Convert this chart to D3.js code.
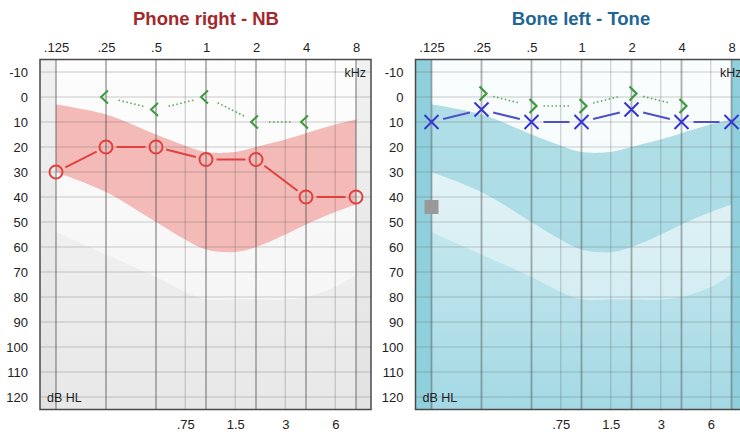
<!DOCTYPE html>
<html><head><meta charset="utf-8">
<script src="https://cdn.jsdelivr.net/npm/d3@7"></script>
<style>
html,body{margin:0;padding:0;background:#fff;}
svg{display:block;font-family:"Liberation Sans",Arial,sans-serif;}
</style></head>
<body>
<svg id="chart" width="740" height="432"></svg>
<script>
// ---- data ----
const titles = ["Phone right - NB", "Bone left - Tone"];
const freqTicks = [0.125, 0.25, 0.5, 1, 2, 4, 8];
const freqTickLabels = [".125", ".25", ".5", "1", "2", "4", "8"];
const midTicks = [0.75, 1.5, 3, 6];
const midTickLabels = [".75", "1.5", "3", "6"];
const dbTicks = [-10, 0, 10, 20, 30, 40, 50, 60, 70, 80, 90, 100, 110, 120];

// Left panel (Phone right): air thresholds (O) and masked bone (<)
const airFreqs = [0.125, 0.25, 0.5, 1, 2, 4, 8];
const airDb = [30, 20, 20, 25, 25, 40, 40];
const rightBoneFreqs = [0.25, 0.5, 1, 2, 4];
const rightBoneDb = [0, 5, 0, 10, 10];

// Right panel (Bone left): X thresholds and bone (>)
const leftXFreqs = [0.125, 0.25, 0.5, 1, 2, 4, 8];
const leftXDb = [10, 5, 10, 10, 5, 10, 10];
const leftBoneFreqs = [0.25, 0.5, 1, 2, 4];
const leftBoneDb = [0, 5, 5, 0, 5];
const squareFreq = [0.125];
const squareDb = [44];

// Shaded range band (same in both panels)
const bandFreqs = [0.125, 0.25, 0.5, 0.75, 1, 1.5, 2, 3, 4, 6, 8];
const bandUpper = [3, 7, 15, 19.5, 22, 22, 20, 17, 14.5, 11, 9];
const bandLower = [30, 38, 50, 57, 61, 62, 60, 55, 51, 46, 43];
const bandFloor = [54, 63, 72, 78, 81, 81, 81, 81, 80, 76, 71];

// ---- layout ----
const svg = d3.select("#chart");
const octPx = 50;
const fMin = 0.125 / Math.pow(2, 0.32), fMax = 8 * Math.pow(2, 0.30);
const y = d3.scaleLinear().domain([-15, 125]).range([59.5, 409.5]);
const curve = d3.curveCatmullRom.alpha(0.5);

const defs = svg.append("defs");
function grad(id, c0, c1) {
  const g = defs.append("linearGradient").attr("id", id).attr("x1", 0).attr("y1", 0).attr("x2", 0).attr("y2", 1);
  g.append("stop").attr("offset", "0%").attr("stop-color", c0);
  g.append("stop").attr("offset", "100%").attr("stop-color", c1);
}
grad("bgL", "#f7f7f7", "#e8e8e8");
grad("bgR", "#e2f4f7", "#a4d9e4");

const panels = [
  { x0: 40, title: titles[0], titleColor: "#a3282c", bg: "url(#bgL)", band: "#f4bab7", bandOp: 1,
    upperOp: 0.7, floorOp: 0.5, strip: "rgba(0,0,0,0.025)", titleX: 206 },
  { x0: 415.5, title: titles[1], titleColor: "#1f6696", bg: "url(#bgR)", band: "#a8dae4", bandOp: 0.85,
    upperOp: 0.8, floorOp: 0.4, strip: "#90d0dc", titleX: 581 }
];

panels.forEach((p, i) => {
  const x = d3.scaleLog().base(2).domain([fMin, fMax]).range([p.x0, p.x0 + octPx * Math.log2(fMax / fMin)]);
  p.xs = x;
  const g = svg.append("g");
  const clipId = "clip" + i;
  defs.append("clipPath").attr("id", clipId).append("rect")
    .attr("x", x.range()[0]).attr("y", y.range()[0])
    .attr("width", x.range()[1] - x.range()[0]).attr("height", y.range()[1] - y.range()[0]);
  const pg = g.append("g").attr("clip-path", `url(#${clipId})`);

  pg.append("rect").attr("x", x.range()[0]).attr("y", y.range()[0])
    .attr("width", x.range()[1] - x.range()[0]).attr("height", y.range()[1] - y.range()[0])
    .attr("fill", p.bg);

  const bd = bandFreqs.map((f, k) => ({ f, u: bandUpper[k], l: bandLower[k], fl: bandFloor[k] }));
  pg.append("path").datum(bd)
    .attr("d", d3.area().x(d => x(d.f)).y0(y(-15)).y1(d => y(d.u)).curve(curve))
    .attr("fill", "#ffffff").attr("opacity", p.upperOp);
  pg.append("path").datum(bd)
    .attr("d", d3.area().x(d => x(d.f)).y0(d => y(d.l)).y1(d => y(d.fl)).curve(curve))
    .attr("fill", "#ffffff").attr("opacity", p.floorOp);
  pg.append("path").datum(bd)
    .attr("d", d3.area().x(d => x(d.f)).y0(d => y(d.u)).y1(d => y(d.l)).curve(curve))
    .attr("fill", p.band).attr("opacity", p.bandOp);

  pg.append("rect").attr("x", x.range()[0]).attr("y", y.range()[0])
    .attr("width", x(0.125) - x.range()[0]).attr("height", y.range()[1] - y.range()[0]).attr("fill", p.strip);
  pg.append("rect").attr("x", x(8)).attr("y", y.range()[0])
    .attr("width", x.range()[1] - x(8)).attr("height", y.range()[1] - y.range()[0]).attr("fill", p.strip);

  pg.selectAll(".hg").data(dbTicks).join("line")
    .attr("x1", x.range()[0]).attr("x2", x.range()[1])
    .attr("y1", d => y(d)).attr("y2", d => y(d))
    .attr("stroke", "rgba(90,90,90,0.3)").attr("stroke-width", 1.2);
  pg.selectAll(".mg").data(midTicks).join("line")
    .attr("x1", d => x(d)).attr("x2", d => x(d))
    .attr("y1", y.range()[0]).attr("y2", y.range()[1])
    .attr("stroke", "rgba(90,90,90,0.28)").attr("stroke-width", 1.2);
  pg.selectAll(".vg").data(freqTicks).join("line")
    .attr("x1", d => x(d)).attr("x2", d => x(d))
    .attr("y1", y.range()[0]).attr("y2", y.range()[1])
    .attr("stroke", "rgba(80,80,80,0.45)").attr("stroke-width", 1.8);

  g.append("rect").attr("x", x.range()[0]).attr("y", y.range()[0])
    .attr("width", x.range()[1] - x.range()[0]).attr("height", y.range()[1] - y.range()[0])
    .attr("fill", "none").attr("stroke", "#4a4a4a").attr("stroke-width", 1.5);

  const top = g.append("g").attr("transform", `translate(0,${y.range()[0]})`)
    .call(d3.axisTop(x).tickValues(freqTicks).tickSize(0).tickPadding(8)
      .tickFormat((d, k) => freqTickLabels[k]));
  const bot = g.append("g").attr("transform", `translate(0,${y.range()[1]})`)
    .call(d3.axisBottom(x).tickValues(midTicks).tickSize(0).tickPadding(10)
      .tickFormat((d, k) => midTickLabels[k]));
  const left = g.append("g").attr("transform", `translate(${x.range()[0]},0)`)
    .call(d3.axisLeft(y).tickValues(dbTicks).tickSize(0).tickPadding(12).tickFormat(d => String(d)));
  [top, bot, left].forEach(a => {
    a.select(".domain").remove();
    a.selectAll("text").attr("font-size", 13).attr("fill", "#222")
      .attr("font-family", "'Liberation Sans',Arial,sans-serif");
  });

  g.append("text").attr("x", x.range()[1] - 5).attr("y", y(-10) + 5)
    .attr("text-anchor", "end").attr("font-size", 12.5).attr("fill", "#222").text("kHz");
  g.append("text").attr("x", x.range()[0] + 7).attr("y", y(120) + 5)
    .attr("font-size", 12.5).attr("fill", "#222").text("dB HL");

  svg.append("text").attr("x", p.titleX).attr("y", 25).attr("text-anchor", "middle")
    .attr("font-size", 18.5).attr("font-weight", "bold").attr("fill", p.titleColor).text(p.title);
});

function connectors(g, pts, gap, color, width, dash) {
  for (let k = 0; k < pts.length - 1; k++) {
    const [x1, y1] = pts[k], [x2, y2] = pts[k + 1];
    const dx = x2 - x1, dy = y2 - y1, L = Math.hypot(dx, dy);
    const ux = dx / L, uy = dy / L;
    g.append("line")
      .attr("x1", x1 + ux * gap).attr("y1", y1 + uy * gap)
      .attr("x2", x2 - ux * gap).attr("y2", y2 - uy * gap)
      .attr("stroke", color).attr("stroke-width", width)
      .attr("stroke-dasharray", dash || null);
  }
}

// ---- left panel marks ----
{
  const x = panels[0].xs, g = svg.append("g");
  const bonePts = rightBoneFreqs.map((f, k) => [x(f), y(rightBoneDb[k])]);
  connectors(g, bonePts, 13, "#5aa55a", 1.6, "1.5,2.5");
  g.selectAll(".lb").data(bonePts).join("path")
    .attr("d", d => `M${d[0] + 2},${d[1] - 6.5}L${d[0] - 5},${d[1]}L${d[0] + 2},${d[1] + 6.5}`)
    .attr("fill", "none").attr("stroke", "#3c9a3c").attr("stroke-width", 2);
  const airPts = airFreqs.map((f, k) => [x(f), y(airDb[k])]);
  connectors(g, airPts, 10.5, "#e0413f", 2);
  g.selectAll(".ac").data(airPts).join("circle")
    .attr("cx", d => d[0]).attr("cy", d => d[1]).attr("r", 6.5)
    .attr("fill", "none").attr("stroke", "#e0413f").attr("stroke-width", 2);
}

// ---- right panel marks ----
{
  const x = panels[1].xs, g = svg.append("g");
  g.selectAll(".sq").data(squareFreq).join("rect")
    .attr("x", d => x(d) - 7).attr("y", (d, k) => y(squareDb[k]) - 7)
    .attr("width", 14).attr("height", 14).attr("fill", "#999");
  const bonePts = leftBoneFreqs.map((f, k) => [x(f), y(leftBoneDb[k]) - 3.5]);
  connectors(g, bonePts, 12, "#5aa55a", 1.6, "1.5,2.5");
  g.selectAll(".rb").data(bonePts).join("path")
    .attr("d", d => `M${d[0] - 2},${d[1] - 7}L${d[0] + 5},${d[1]}L${d[0] - 2},${d[1] + 7}`)
    .attr("fill", "none").attr("stroke", "#3c9a3c").attr("stroke-width", 2.2);
  const xPts = leftXFreqs.map((f, k) => [x(f), y(leftXDb[k])]);
  connectors(g, xPts, 12, "#5050c8", 2);
  g.selectAll(".xm").data(xPts).join("path")
    .attr("d", d => `M${d[0] - 7},${d[1] - 7}L${d[0] + 7},${d[1] + 7}M${d[0] - 7},${d[1] + 7}L${d[0] + 7},${d[1] - 7}`)
    .attr("stroke", "#3535d6").attr("stroke-width", 2).attr("fill", "none");
}
</script>
</body></html>
